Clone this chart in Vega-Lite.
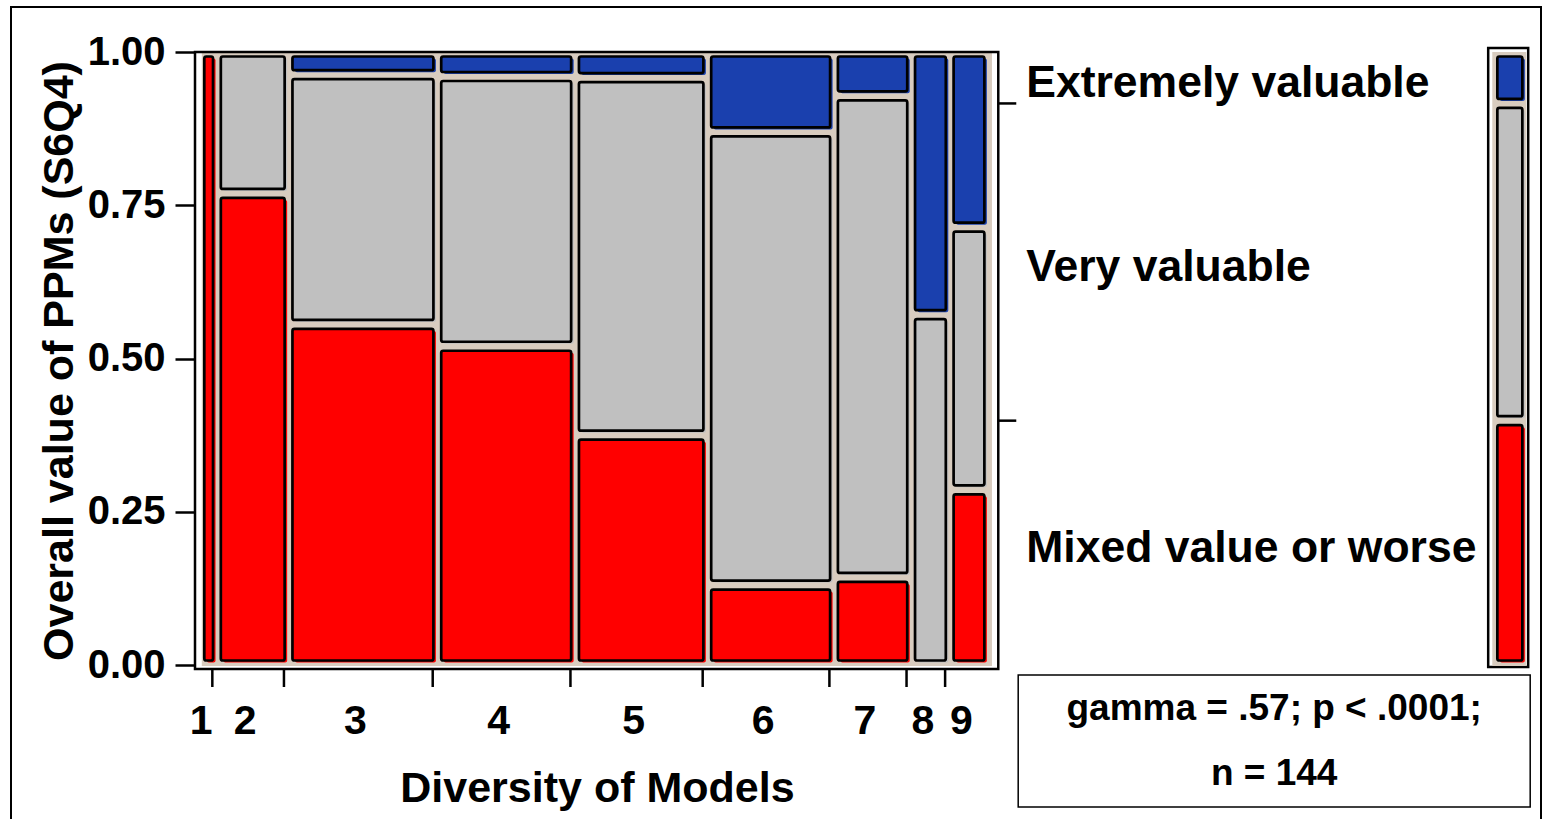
{
  "$schema": "https://vega.github.io/schema/vega-lite/v6.json",
  "width": 1530,
  "height": 830,
  "padding": {"left": 11, "top": 7, "right": 2, "bottom": 0},
  "autosize": {"type": "none"},
  "background": "white",
  "config": {
    "view": {"stroke": "black", "strokeWidth": 2},
    "font": "Liberation Sans"
  },
  "datasets": {
    "responses": [
      {"models": 1, "value": "Mixed value or worse", "level": 1, "count": 3},
      {"models": 2, "value": "Mixed value or worse", "level": 1, "count": 10},
      {"models": 2, "value": "Very valuable", "level": 2, "count": 3},
      {"models": 3, "value": "Mixed value or worse", "level": 1, "count": 15},
      {"models": 3, "value": "Very valuable", "level": 2, "count": 11},
      {"models": 3, "value": "Extremely valuable", "level": 3, "count": 1},
      {"models": 4, "value": "Mixed value or worse", "level": 1, "count": 13},
      {"models": 4, "value": "Very valuable", "level": 2, "count": 11},
      {"models": 4, "value": "Extremely valuable", "level": 3, "count": 1},
      {"models": 5, "value": "Mixed value or worse", "level": 1, "count": 9},
      {"models": 5, "value": "Very valuable", "level": 2, "count": 14},
      {"models": 5, "value": "Extremely valuable", "level": 3, "count": 1},
      {"models": 6, "value": "Mixed value or worse", "level": 1, "count": 3},
      {"models": 6, "value": "Very valuable", "level": 2, "count": 17},
      {"models": 6, "value": "Extremely valuable", "level": 3, "count": 3},
      {"models": 7, "value": "Mixed value or worse", "level": 1, "count": 2},
      {"models": 7, "value": "Very valuable", "level": 2, "count": 11},
      {"models": 7, "value": "Extremely valuable", "level": 3, "count": 1},
      {"models": 8, "value": "Very valuable", "level": 2, "count": 4},
      {"models": 8, "value": "Extremely valuable", "level": 3, "count": 3},
      {"models": 9, "value": "Mixed value or worse", "level": 1, "count": 2},
      {"models": 9, "value": "Very valuable", "level": 2, "count": 3},
      {"models": 9, "value": "Extremely valuable", "level": 3, "count": 2}
    ]
  },
  "data": {"name": "responses"},
  "transform": [
    {"stack": "count", "groupby": [], "sort": [{"field": "models", "order": "ascending"}, {"field": "level", "order": "ascending"}], "as": ["c0", "c1"]},
    {"window": [{"op": "min", "field": "c0", "as": "x0"}, {"op": "max", "field": "c1", "as": "x1"}], "groupby": ["models"], "frame": [null, null]},
    {"joinaggregate": [{"op": "sum", "field": "count", "as": "total"}]},
    {"stack": "count", "groupby": ["models"], "offset": "normalize", "sort": [{"field": "level", "order": "ascending"}], "as": ["y0", "y1"]}
  ],
  "layer": [
    {
      "transform": [
        {"aggregate": [{"op": "min", "field": "x0", "as": "left"}, {"op": "max", "field": "x1", "as": "right"}, {"op": "min", "field": "y0", "as": "bottom"}, {"op": "max", "field": "y1", "as": "top"}]}
      ],
      "mark": {"type": "rect", "fill": "#d8ccbf", "xOffset": 6, "x2Offset": 8.3, "yOffset": 1},
      "encoding": {
        "x": {
          "field": "left", "type": "quantitative",
          "scale": {"domain": [0, 145.6], "range": [184.8, 987], "nice": false, "zero": false},
          "axis": {"orient": "bottom", "offset": -168, "domain": false, "grid": false, "ticks": false, "labels": false, "title": "Diversity of Models", "titleFont": "Liberation Sans", "titleFontSize": 43, "titleFontWeight": "bold", "titleColor": "black", "titlePadding": 98}
        },
        "x2": {"field": "right"},
        "y": {
          "field": "bottom", "type": "quantitative",
          "scale": {"domain": [-0.0065, 1], "range": [662, 45], "nice": false, "zero": false},
          "axis": {"orient": "left", "offset": -184, "values": [0, 0.25, 0.5, 0.75, 1], "format": ".2f", "domain": false, "grid": false, "tickSize": 20, "tickWidth": 2.5, "tickColor": "black", "labelFont": "Liberation Sans", "labelFontSize": 40, "labelFontWeight": "bold", "labelColor": "black", "labelPadding": 10, "labelFlush": false, "labelOverlap": false, "labelBound": false, "title": "Overall value of PPMs (S6Q4)", "titleFont": "Liberation Sans", "titleFontSize": 43, "titleFontWeight": "bold", "titleColor": "black", "titlePadding": 6}
        },
        "y2": {"field": "top"}
      }
    },
    {
      "transform": [
        {"aggregate": [{"op": "min", "field": "x0", "as": "left"}, {"op": "max", "field": "x1", "as": "right"}, {"op": "min", "field": "y0", "as": "bottom"}, {"op": "max", "field": "y1", "as": "top"}]}
      ],
      "mark": {"type": "rect", "fill": null, "stroke": "black", "strokeWidth": 2.5, "xOffset": -0.8, "x2Offset": 14.6, "yOffset": 4},
      "encoding": {
        "x": {"field": "left", "type": "quantitative"},
        "x2": {"field": "right"},
        "y": {"field": "bottom", "type": "quantitative"},
        "y2": {"field": "top"}
      }
    },
    {
      "mark": {"type": "rect", "xOffset": 11, "x2Offset": 3.2, "yOffset": -2.5, "y2Offset": 6.5, "cornerRadius": 2},
      "encoding": {
        "x": {"field": "x0", "type": "quantitative"},
        "x2": {"field": "x1"},
        "y": {"field": "y0", "type": "quantitative"},
        "y2": {"field": "y1"},
        "color": {"field": "value", "type": "nominal", "scale": {"domain": ["Mixed value or worse", "Very valuable", "Extremely valuable"], "range": ["#ff0000", "#c0c0c0", "#1a40ae"]}, "legend": null}
      }
    },
    {
      "mark": {"type": "rect", "xOffset": 8.5, "x2Offset": 0.7, "yOffset": -4.5, "y2Offset": 4.5, "cornerRadius": 2, "stroke": "black", "strokeWidth": 2.7},
      "encoding": {
        "x": {"field": "x0", "type": "quantitative"},
        "x2": {"field": "x1"},
        "y": {"field": "y0", "type": "quantitative"},
        "y2": {"field": "y1"},
        "color": {"field": "value", "type": "nominal", "legend": null}
      }
    },
    {
      "transform": [
        {"filter": "datum.y0 == 0 && datum.x1 < datum.total"}
      ],
      "mark": {"type": "rule", "color": "black", "strokeWidth": 2.5, "yOffset": 4, "y2Offset": 22},
      "encoding": {
        "x": {"field": "x1", "type": "quantitative"},
        "y": {"field": "y0", "type": "quantitative"},
        "y2": {"field": "y0"}
      }
    },
    {
      "transform": [
        {"filter": "datum.y0 == 0"},
        {"fold": ["x0", "x1"], "as": ["edge", "pos"]},
        {"aggregate": [{"op": "mean", "field": "pos", "as": "mid"}, {"op": "min", "field": "y0", "as": "base"}], "groupby": ["models"]}
      ],
      "mark": {"type": "text", "dy": 57, "dx": -3, "fontSize": 41, "fontWeight": "bold", "align": "center", "baseline": "middle", "color": "black"},
      "encoding": {
        "x": {"field": "mid", "type": "quantitative"},
        "y": {"field": "base", "type": "quantitative"},
        "text": {"field": "models", "type": "nominal"}
      }
    },
    {
      "transform": [
        {"aggregate": [{"op": "sum", "field": "count", "as": "n"}, {"op": "max", "field": "total", "as": "total"}], "groupby": ["value", "level"]},
        {"stack": "n", "groupby": [], "offset": "normalize", "sort": [{"field": "level", "order": "ascending"}], "as": ["m0", "m1"]},
        {"filter": "datum.m1 < 0.999"}
      ],
      "mark": {"type": "rule", "color": "black", "strokeWidth": 2.5, "xOffset": 14.6, "x2Offset": 32.6},
      "encoding": {
        "x": {"field": "total", "type": "quantitative"},
        "x2": {"field": "total"},
        "y": {"field": "m1", "type": "quantitative"}
      }
    },
    {
      "transform": [
        {"aggregate": [{"op": "sum", "field": "count", "as": "n"}, {"op": "max", "field": "total", "as": "total"}], "groupby": ["value", "level"]},
        {"stack": "n", "groupby": [], "offset": "normalize", "sort": [{"field": "level", "order": "ascending"}], "as": ["m0", "m1"]},
        {"fold": ["m0", "m1"], "as": ["edge", "pos"]},
        {"aggregate": [{"op": "mean", "field": "pos", "as": "mid"}, {"op": "max", "field": "total", "as": "total"}], "groupby": ["value"]}
      ],
      "mark": {"type": "text", "align": "left", "baseline": "middle", "dx": 42.6, "dy": 6, "fontSize": 44.5, "fontWeight": "bold", "color": "black"},
      "encoding": {
        "x": {"field": "total", "type": "quantitative"},
        "y": {"field": "mid", "type": "quantitative"},
        "text": {"field": "value", "type": "nominal"}
      }
    },
    {
      "transform": [
        {"aggregate": [{"op": "min", "field": "y0", "as": "bottom"}, {"op": "max", "field": "y1", "as": "top"}]}
      ],
      "mark": {"type": "rect", "fill": "white", "stroke": "black", "strokeWidth": 2.5, "width": 40, "yOffset": 2, "y2Offset": -4},
      "encoding": {
        "x": {"datum": 238.2, "type": "quantitative"},
        "y": {"field": "bottom", "type": "quantitative"},
        "y2": {"field": "top"}
      }
    },
    {
      "transform": [
        {"aggregate": [{"op": "min", "field": "y0", "as": "bottom"}, {"op": "max", "field": "y1", "as": "top"}]}
      ],
      "mark": {"type": "rect", "fill": "#d8ccbf", "width": 34, "yOffset": 1},
      "encoding": {
        "x": {"datum": 238.4, "type": "quantitative"},
        "y": {"field": "bottom", "type": "quantitative"},
        "y2": {"field": "top"}
      }
    },
    {
      "transform": [
        {"aggregate": [{"op": "sum", "field": "count", "as": "n"}], "groupby": ["value", "level"]},
        {"stack": "n", "groupby": [], "offset": "normalize", "sort": [{"field": "level", "order": "ascending"}], "as": ["m0", "m1"]}
      ],
      "mark": {"type": "rect", "width": 25, "xOffset": 2.5, "yOffset": -2.5, "y2Offset": 6.5, "cornerRadius": 2},
      "encoding": {
        "x": {"datum": 238.5, "type": "quantitative"},
        "y": {"field": "m0", "type": "quantitative"},
        "y2": {"field": "m1"},
        "color": {"field": "value", "type": "nominal", "legend": null}
      }
    },
    {
      "transform": [
        {"aggregate": [{"op": "sum", "field": "count", "as": "n"}], "groupby": ["value", "level"]},
        {"stack": "n", "groupby": [], "offset": "normalize", "sort": [{"field": "level", "order": "ascending"}], "as": ["m0", "m1"]}
      ],
      "mark": {"type": "rect", "width": 25, "yOffset": -4.5, "y2Offset": 4.5, "cornerRadius": 2, "stroke": "black", "strokeWidth": 2.7},
      "encoding": {
        "x": {"datum": 238.5, "type": "quantitative"},
        "y": {"field": "m0", "type": "quantitative"},
        "y2": {"field": "m1"},
        "color": {"field": "value", "type": "nominal", "legend": null}
      }
    },
    {
      "transform": [{"aggregate": [{"op": "max", "field": "total", "as": "total"}]}],
      "mark": {"type": "rect", "fill": "white", "stroke": "black", "strokeWidth": 1.5, "width": 512, "height": 132},
      "encoding": {
        "x": {"datum": 195.73, "type": "quantitative"},
        "y": {"datum": -0.124, "type": "quantitative"}
      }
    },
    {
      "transform": [{"aggregate": [{"op": "max", "field": "total", "as": "total"}]}],
      "mark": {"type": "text", "text": ["gamma = .57; p < .0001;", "n = 144"], "lineHeight": 65, "dy": -32.5, "fontSize": 37, "fontWeight": "bold", "align": "center", "baseline": "middle", "color": "black"},
      "encoding": {
        "x": {"datum": 195.73, "type": "quantitative"},
        "y": {"datum": -0.124, "type": "quantitative"}
      }
    }
  ]
}
